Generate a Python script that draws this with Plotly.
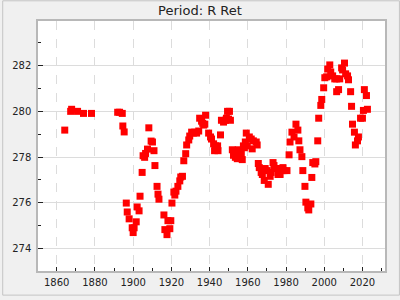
import plotly.graph_objects as go

years = [1864.2, 1867.3, 1867.8, 1870.9, 1874.0, 1878.2, 1891.9, 1892.9, 1894.3, 1894.6,
         1895.3, 1896.4, 1896.9, 1897.9, 1899.5, 1900.0, 1900.5, 1901.6, 1902.1, 1903.1,
         1903.6, 1904.7, 1905.2, 1906.0, 1906.5, 1907.5, 1908.2, 1909.4, 1910.1, 1910.9,
         1911.4, 1912.5, 1913.0, 1913.5, 1916.1, 1916.6, 1917.7, 1918.2, 1919.2, 1919.7,
         1920.3, 1921.3, 1921.8, 1922.4, 1923.4, 1924.4, 1924.9, 1925.8, 1926.5, 1927.5,
         1928.0, 1929.1, 1929.6, 1930.6, 1931.5, 1932.2, 1933.2, 1934.3, 1934.8, 1935.8,
         1936.4, 1936.9, 1937.5, 1937.9, 1939.5, 1940.5, 1941.0, 1942.1, 1942.6, 1943.1,
         1944.2, 1944.4, 1945.7, 1946.2, 1947.3, 1948.3, 1948.8, 1949.4, 1949.9, 1950.4,
         1950.9, 1951.9, 1952.5, 1953.5, 1954.5, 1955.0, 1955.6, 1956.6, 1957.1, 1957.7,
         1958.2, 1958.7, 1959.2, 1959.7, 1960.8, 1961.8, 1962.3, 1962.9, 1964.4, 1964.9,
         1965.5, 1966.0, 1967.0, 1967.6, 1968.6, 1969.1, 1970.1, 1970.7, 1971.7, 1972.2,
         1973.2, 1973.7, 1974.8, 1975.8, 1976.4, 1976.9, 1977.9, 1978.4, 1978.9, 1980.5,
         1981.6, 1982.1, 1983.1, 1984.2, 1985.2, 1986.2, 1986.7, 1987.3, 1988.3, 1988.8,
         1989.9, 1990.4, 1991.4, 1991.9, 1993.0, 1993.5, 1994.0, 1995.1, 1995.6, 1996.6,
         1997.1, 1998.2, 1998.7, 1999.7, 2000.3, 2001.3, 2001.8, 2002.9, 2003.4, 2004.4,
         2005.5, 2006.5, 2006.5, 2007.5, 2008.1, 2009.1, 2009.6, 2010.6, 2011.2, 2012.2,
         2012.7, 2013.8, 2014.3, 2014.8, 2015.8, 2016.3, 2017.4, 2017.9, 2019.0, 2020.0,
         2020.5, 2021.0, 2022.1, 2022.6]

values = [279.18, 280.00, 280.09, 280.00, 279.91, 279.91, 279.96, 279.96, 279.91, 279.36,
          279.10, 275.99, 275.60, 275.30, 274.91, 274.70, 274.91, 275.17, 275.82, 275.65,
          276.29, 277.33, 278.06, 277.99, 278.16, 278.35, 279.28, 278.70, 278.66, 278.28,
          277.63, 276.72, 276.38, 276.16, 275.47, 274.83, 274.61, 275.22, 274.87, 275.22,
          275.99, 276.47, 276.34, 276.51, 276.72, 276.96, 277.13, 277.16, 277.84, 278.15,
          278.53, 278.75, 278.92, 279.09, 279.05, 279.09, 279.05, 279.14, 279.70, 279.57,
          279.48, 279.40, 279.44, 279.83, 279.05, 278.88, 278.79, 278.58, 278.28, 278.49,
          278.49, 278.28, 278.97, 279.61, 279.53, 279.61, 279.70, 280.00, 279.66, 280.00,
          279.61, 278.32, 278.08, 277.99, 277.93, 278.32, 278.19, 278.15, 277.89, 278.49,
          278.41, 278.66, 279.05, 278.49, 278.88, 278.79, 278.36, 278.71, 278.66, 278.53,
          277.72, 277.54, 277.33, 277.24, 276.98, 277.50, 277.41, 276.81, 277.16, 277.33,
          277.76, 277.63, 277.50, 277.24, 277.50, 277.24, 277.41, 277.54, 277.41, 277.41,
          278.10, 278.66, 279.09, 278.88, 279.44, 279.18, 278.71, 278.32, 278.02, 277.41,
          276.72, 276.03, 275.78, 275.69, 275.95, 277.11, 277.76, 277.70, 277.80, 278.71,
          279.70, 280.26, 280.52, 281.03, 281.47, 281.51, 281.85, 282.03, 281.72, 281.55,
          281.42, 281.42, 280.86, 280.95, 281.42, 281.90, 281.81, 282.11, 281.64, 281.55,
          281.38, 280.86, 280.22, 279.44, 279.09, 278.53, 278.71, 278.88, 279.70, 279.70,
          280.04, 280.95, 280.69, 280.09]

title_text = "Period: R Ret"
x_ticks = [1860, 1880, 1900, 1920, 1940, 1960, 1980, 2000, 2020]
y_ticks = [274, 276, 278, 280, 282]

fig = go.Figure(go.Scatter(
    x=years, y=values, mode="markers",
    marker=dict(symbol="square", size=7, color="#ff0000", line=dict(width=0)),
    showlegend=False,
))

font_family = "DejaVu Sans"
pw, ph = 349.0, 254.0
fig.update_layout(
    width=400, height=300,
    margin=dict(l=36, r=15, t=21, b=25),
    paper_bgcolor="#f0f0f0",
    plot_bgcolor="#ffffff",
    font=dict(family=font_family, size=10, color="#222222"),
    title=dict(text=title_text, x=0.5, xanchor="center", y=0.965, yanchor="middle",
               font=dict(family=font_family, size=13, color="#222222")),
    shapes=[dict(type="rect", xref="paper", yref="paper",
                 x0=-35.5 / pw, x1=1 + 14.5 / pw,
                 y0=-24.5 / ph, y1=1 + 20.5 / ph,
                 line=dict(color="#c4c4c4", width=1), layer="below")],
)
fig.update_xaxes(
    range=[1850.2, 2031.8], tickvals=x_ticks, ticktext=[str(t) for t in x_ticks],
    showgrid=True, gridcolor="#dcdcdc", griddash="dash", gridwidth=1,
    ticks="inside", ticklen=4, tickcolor="#222222",
    minor=dict(dtick=10, tick0=1850, ticks="inside", ticklen=3, tickcolor="#222222", showgrid=False),
    showline=True, linecolor="#b8b8b8", linewidth=1.5, mirror=True, zeroline=False,
    tickfont=dict(size=10), ticklabelstandoff=1,
)
fig.update_yaxes(
    range=[273.02, 283.95], tickvals=y_ticks, ticktext=[str(t) for t in y_ticks],
    showgrid=True, gridcolor="#dcdcdc", gridwidth=1,
    ticks="inside", ticklen=5, tickcolor="#222222",
    minor=dict(dtick=1, tick0=273, ticks="inside", ticklen=3, tickcolor="#222222", showgrid=False),
    showline=True, linecolor="#b8b8b8", linewidth=1.5, mirror=True, zeroline=False,
    tickfont=dict(size=10), ticklabelstandoff=3,
)

fig.write_html("out.html")
